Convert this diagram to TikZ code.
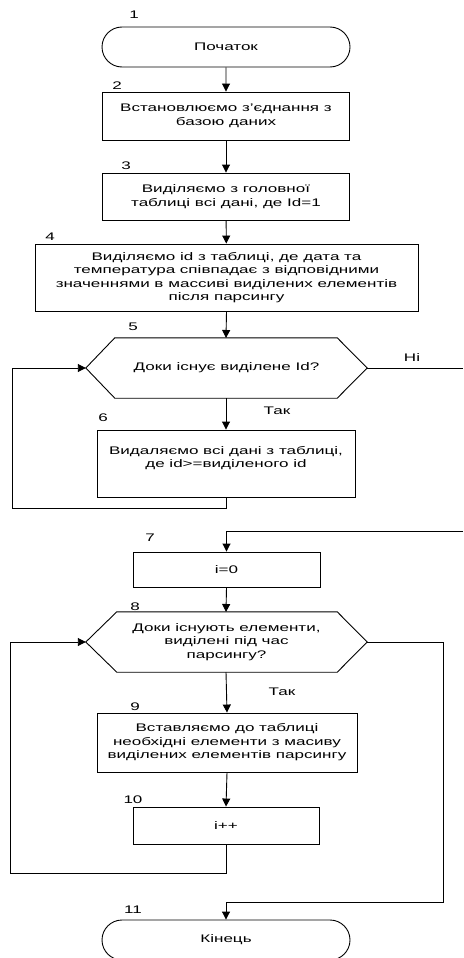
\documentclass[tikz,border=0pt]{standalone}
\usepackage{fontspec}
\setmainfont{Liberation Sans}[FakeStretch=1.55]
\usetikzlibrary{arrows.meta,shapes.misc}
\begin{document}
\begin{tikzpicture}[x=1pt,y=-1pt,
  every node/.style={font=\fontsize{11}{13.5}\selectfont},
  proc/.style={draw, line width=0.9pt, rectangle, inner sep=0pt, align=center},
  term/.style={draw, line width=0.9pt, rounded rectangle, inner sep=0pt, minimum width=248pt, minimum height=40pt},
  hexa/.style={rectangle, inner sep=0pt, minimum width=281pt, minimum height=60pt, align=center},
  num/.style={inner sep=0pt},
  flow/.style={line width=0.9pt, -{Triangle[width=8pt,length=8pt]}},
  conn/.style={line width=0.9pt}]
\useasboundingbox (0,0) rectangle (463,958);
\clip (0,0) rectangle (463,958);

% nodes
\node[term] (n1) at (226,47) {Початок};
\node[proc, minimum width=247pt, minimum height=48pt] (n2) at (226,116) {Встановлюємо з’єднання з\\базою даних};
\node[proc, minimum width=247pt, minimum height=47pt] (n3) at (226,196.5) {Виділяємо з головної\\таблиці всі дані, де Id=1};
\node[proc, minimum width=383pt, minimum height=67pt] (n4) at (226.5,277.5) {Виділяємо id з таблиці, де дата та\\температура співпадає з відповідними\\значеннями в массиві виділених елементів\\після парсингу};
\node[hexa] (n5) at (226.5,368) {Доки існує виділене Id?};
\draw[conn] (n5.west) -- ([xshift=29pt]n5.north west) -- ([xshift=-30pt]n5.north east) -- (n5.east) -- ([xshift=-30pt]n5.south east) -- ([xshift=29pt]n5.south west) -- cycle;
\node[proc, minimum width=258pt, minimum height=67pt] (n6) at (226,463.5) {Видаляємо всі дані з таблиці,\\де id>=виділеного id\\\mbox{}};
\node[proc, minimum width=187pt, minimum height=35pt] (n7) at (226.5,569.5) {i=0};
\node[hexa] (n8) at (226.5,642) {Доки існують елементи,\\виділені під час\\парсингу?};
\draw[conn] (n8.west) -- ([xshift=31pt]n8.north west) -- ([xshift=-30pt]n8.north east) -- (n8.east) -- ([xshift=-30pt]n8.south east) -- ([xshift=31pt]n8.south west) -- cycle;
\node[proc, minimum width=260pt, minimum height=59pt] (n9) at (227,742.5) {Вставляємо до таблиці\\необхідні елементи з масиву\\виділених елементів парсингу};
\node[proc, minimum width=186pt, minimum height=37pt] (n10) at (226,825.5) {i++};
\node[term] (n11) at (226,940) {Кінець};

% numbers
\node[num] (k1) at (134,15) {1};
\node[num] (k2) at (117,86) {2};
\node[num] (k3) at (126,166) {3};
\node[num] (k4) at (50,237) {4};
\node[num] (k5) at (133,327) {5};
\node[num] (k6) at (103,418) {6};
\node[num] (k7) at (150,538) {7};
\node[num] (k8) at (135,607) {8};
\node[num] (k9) at (135,707) {9};
\node[num] (k10) at (133,800) {10};
\node[num] (k11) at (133,910) {11};

% labels
\node[num] (yes1) at (277,411) {Так};
\node[num] (no1) at (412,358) {Ні};
\node[num] (yes2) at (282,692) {Так};

% coordinates
\coordinate (l1) at (12,508);
\coordinate (r1) at (463,368);
\coordinate (r1b) at (463,531);
\coordinate (l2) at (10,873);
\coordinate (r2) at (443,902);

% connectors
\draw[flow] (n1) -- (n2);
\draw[flow] (n2) -- (n3);
\draw[flow] (n3) -- (n4);
\draw[flow] (n4.south) -- (226,338);
\draw[flow] (226,398) -- (n6);
\draw[flow] (n6.south) |- (l1) |- (n5.west);
\draw[conn] (n5.east) -- (r1);
\draw[flow] (r1b) -| (n7.north);
\draw[flow] (n7.south) -- (226,612);
\draw[flow] (226,672) -- (n9.north);
\draw[flow] (n9.south) -- (n10.north);
\draw[flow] (n10.south) |- (l2) |- (n8.west);
\draw[flow] (n8.east) -| (r2) -| (n11.north);
\end{tikzpicture}
\end{document}
